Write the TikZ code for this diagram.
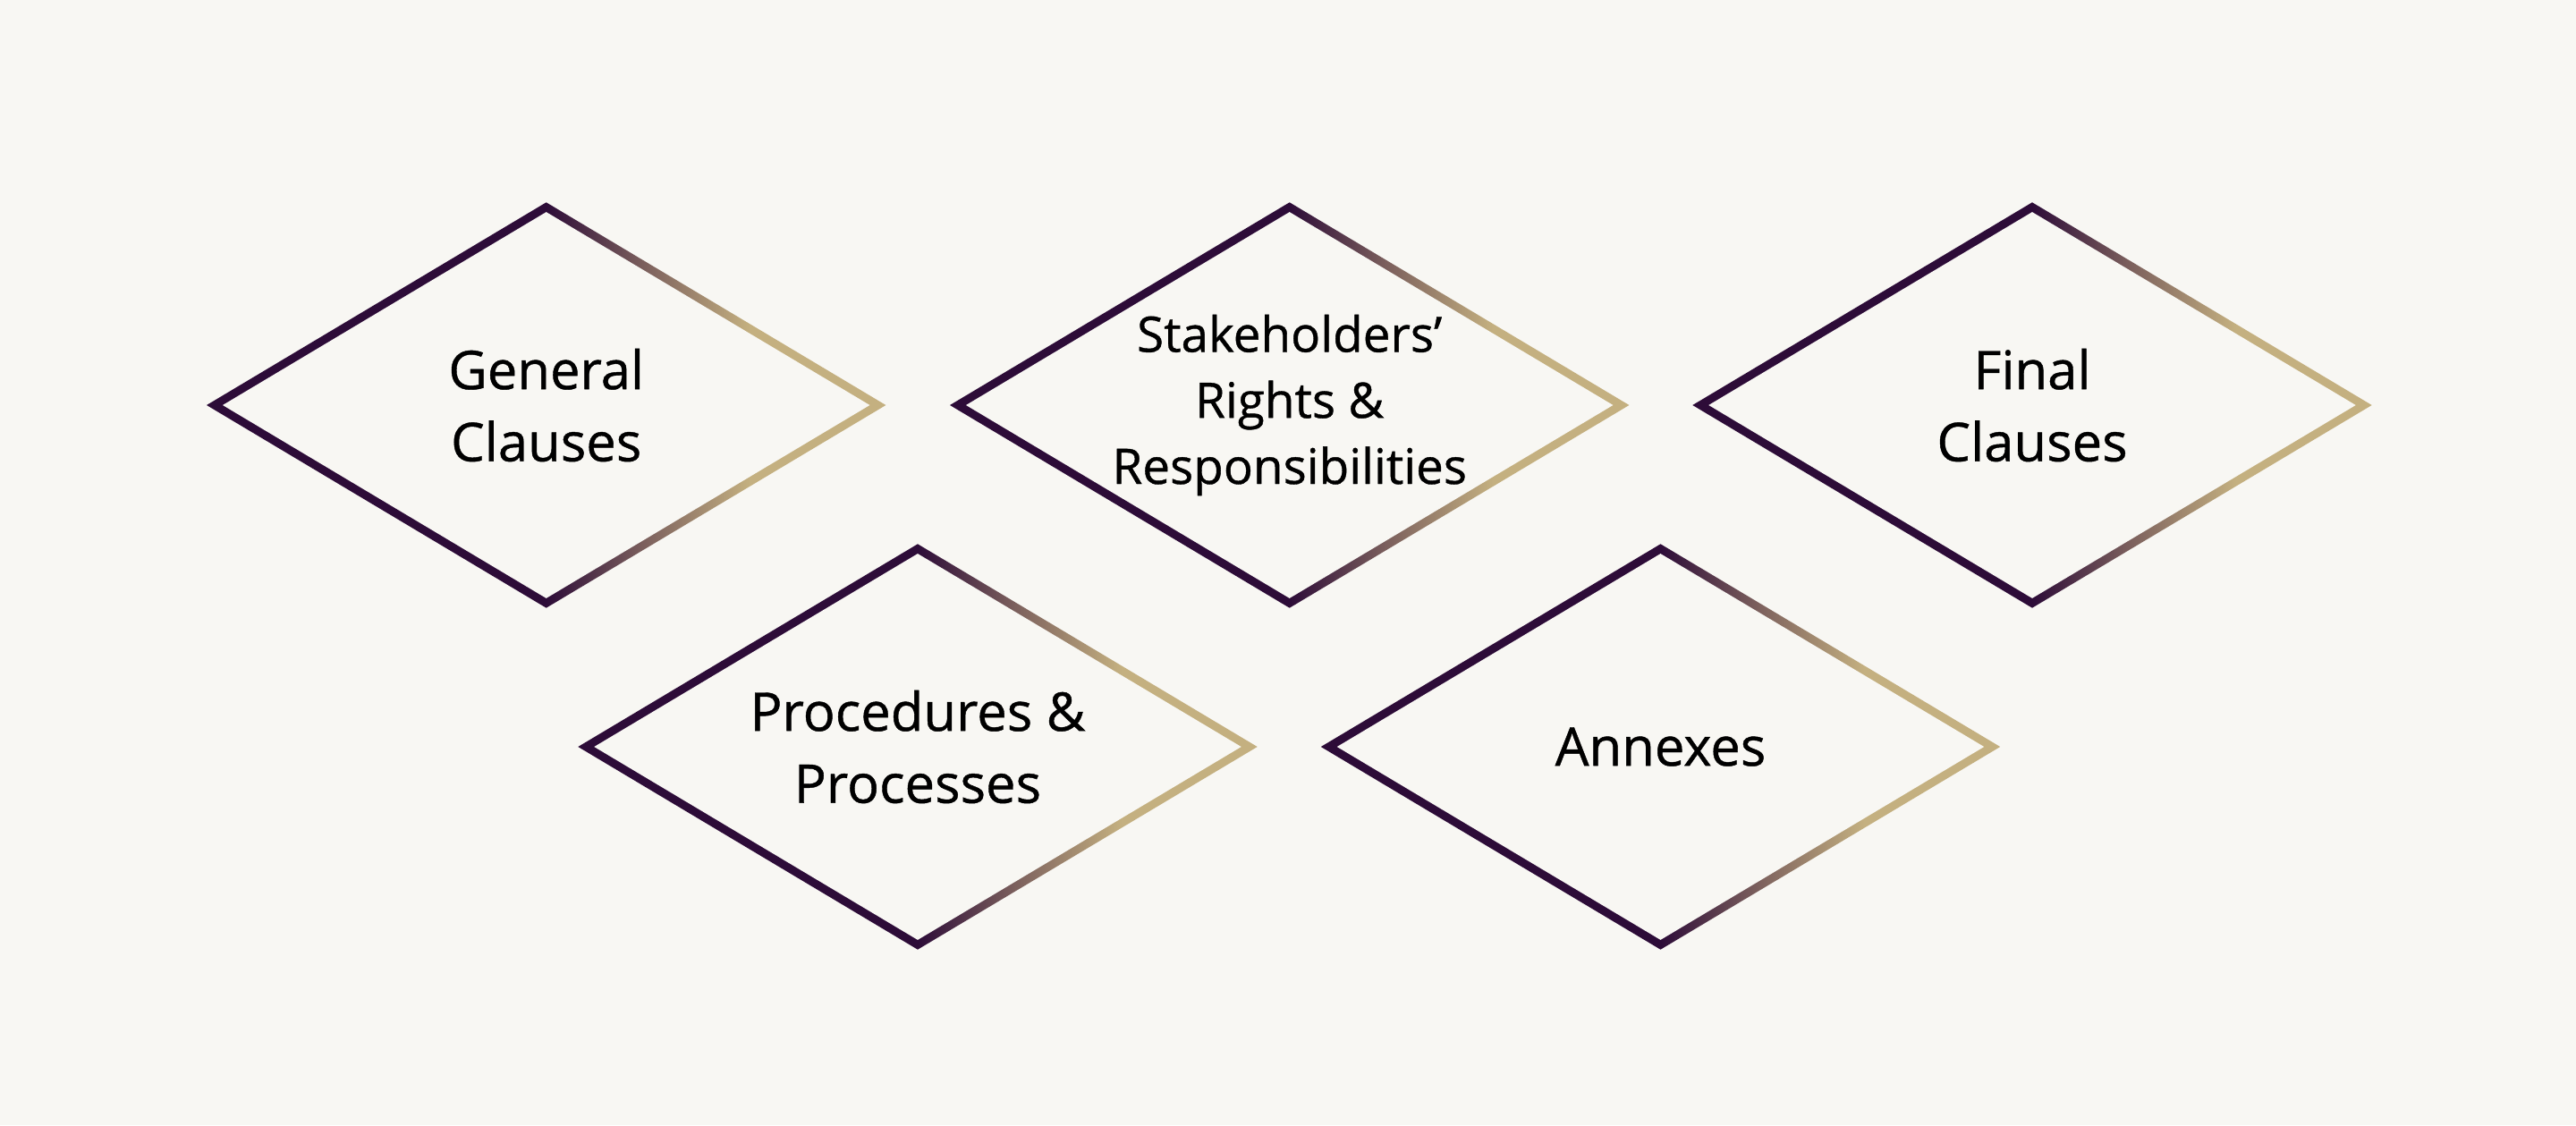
\documentclass[tikz,border=0pt]{standalone}
\usepackage{fontspec}
\setmainfont{Open Sans}
\newfontfamily\labelfont{Open Sans}[FakeBold=0.7]
\usepackage{tikz}
\usetikzlibrary{shapes.geometric}
\usetikzlibrary{calc}

\definecolor{paper}{RGB}{248,247,243}
\definecolor{plum}{RGB}{45,12,56}
\definecolor{sand}{RGB}{196,176,128}
\definecolor{umber}{RGB}{122,94,92}

\pgfdeclarehorizontalshading{edgefade}{100bp}{color(0bp)=(plum); color(50bp)=(plum); color(57bp)=(umber); color(65bp)=(sand); color(100bp)=(sand)}

\tikzset{
  part/.style={diamond, shade, shading=edgefade, inner xsep=-1.5cm, inner ysep=-0.8cm,
    minimum width=7.6cm, minimum height=4.54cm, align=center, text=black,
    font=\labelfont\fontsize{17}{22.9}\selectfont,
    path picture={\fill[paper] ($(path picture bounding box.west)+(0.18,0)$)
      -- ($(path picture bounding box.north)+(0,-0.108)$)
      -- ($(path picture bounding box.east)+(-0.18,0)$)
      -- ($(path picture bounding box.south)+(0,0.108)$) -- cycle;}},
  smallpart/.style={part, font=\labelfont\fontsize{15.6}{21}\selectfont}
}

\begin{document}
\begin{tikzpicture}
\fill[paper] (0,0) rectangle (28.8,12.58);
\useasboundingbox (0,0) rectangle (28.8,12.58);

\path (6.107,8.05) node[part] (general) {General\\Clauses};
\path (14.417,8.05) node[smallpart] (rights) {Stakeholders’\\Rights \&\\Responsibilities};
\path (22.72,8.05) node[part] (final) {Final\\Clauses};
\path (10.26,4.23) node[part] (procs) {Procedures \&\\Processes};
\path (18.565,4.23) node[part] (annex) {Annexes};

\end{tikzpicture}
\end{document}
